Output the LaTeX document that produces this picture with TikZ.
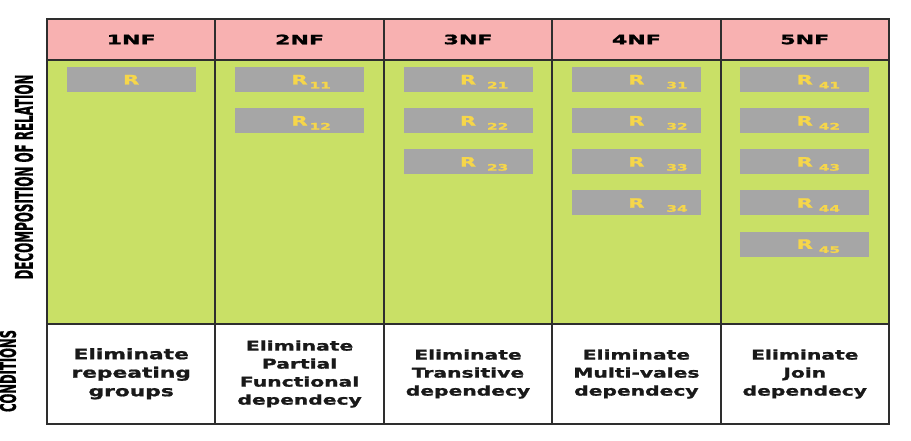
\documentclass[tikz,border=0pt]{standalone}
\usepackage{fontspec}
\setmainfont{DejaVu Sans}[BoldFeatures={FakeBold=1.2}]
\usetikzlibrary{positioning}

\definecolor{hdrpink}{HTML}{F8B1B1}
\definecolor{bodygreen}{HTML}{C9E066}
\definecolor{relgray}{HTML}{A6A6A6}
\definecolor{relyellow}{HTML}{F6D64A}
\definecolor{gridline}{HTML}{2E2E2E}

\newcommand{\widetext}[1]{\scalebox{1.7}[1]{#1}}
\newcommand{\condtext}[3]{\scalebox{1.5}[1]{\fontsize{#1}{#2}\selectfont\begin{tabular}{@{}c@{}}#3\end{tabular}}}
\newcommand{\relname}[2]{\scalebox{1.6}[1]{\fontsize{13}{13}\selectfont R}\rlap{\hspace{#1}\raisebox{-4pt}{\scalebox{1.7}[1]{\fontsize{9}{9}\selectfont #2}}}}

\tikzset{
  cell/.style={draw=gridline, line width=2pt, inner sep=0pt, minimum width=168.4pt},
  hdrcell/.style={cell, fill=hdrpink, minimum height=41pt, font=\fontsize{13}{13}\selectfont\bfseries, text=black},
  bodycell/.style={cell, fill=bodygreen, minimum height=264pt},
  condcell/.style={cell, fill=white, minimum height=100pt, font=\bfseries, text=black!90},
  relbox/.style={fill=relgray, inner sep=0pt, minimum width=129pt, minimum height=25pt,
    text height=9.5pt, text depth=0pt, text=relyellow, font=\bfseries},
  sidelabel/.style={rotate=90, inner sep=0pt, font=\bfseries, text=black}
}

\begin{document}
\begin{tikzpicture}[x=1pt, y=-1pt, node distance=15.7pt]
	\useasboundingbox (0,0) rectangle (911,441);
	% header row
	\node[hdrcell] (h1) at (131.2,39.5) {\widetext{1NF}};
	\node[hdrcell] (h2) at (299.6,39.5) {\widetext{2NF}};
	\node[hdrcell] (h3) at (468.0,39.5) {\widetext{3NF}};
	\node[hdrcell] (h4) at (636.4,39.5) {\widetext{4NF}};
	\node[hdrcell] (h5) at (804.8,39.5) {\widetext{5NF}};
	% decomposition row
	\node[bodycell] (b1) at (131.2,192) {};
	\node[bodycell] (b2) at (299.6,192) {};
	\node[bodycell] (b3) at (468.0,192) {};
	\node[bodycell] (b4) at (636.4,192) {};
	\node[bodycell] (b5) at (804.8,192) {};
	% conditions row
	\node[condcell] (c1) at (131.2,374) {\condtext{14.5}{18.5}{Eliminate\\repeating\\groups}};
	\node[condcell] (c2) at (299.6,374) {\condtext{13.5}{18}{Eliminate\\Partial\\Functional\\dependecy}};
	\node[condcell] (c3) at (468.0,374) {\condtext{13.5}{18}{Eliminate\\Transitive\\dependecy}};
	\node[condcell] (c4) at (636.4,374) {\condtext{13.5}{18}{Eliminate\\Multi-vales\\dependecy}};
	\node[condcell] (c5) at (804.8,374) {\condtext{13.5}{18}{Eliminate\\Join\\dependecy}};
	% relations
	\node[relbox, below=8pt of b1.north] (r1)  {\relname{0pt}{}};
	\node[relbox, below=8pt of b2.north] (r11) {\relname{2pt}{11}};
	\node[relbox, below=of r11]          (r12) {\relname{2pt}{12}};
	\node[relbox, below=8pt of b3.north] (r21) {\relname{11pt}{21}};
	\node[relbox, below=of r21]          (r22) {\relname{11pt}{22}};
	\node[relbox, below=of r22]          (r23) {\relname{11pt}{23}};
	\node[relbox, below=8pt of b4.north] (r31) {\relname{22pt}{31}};
	\node[relbox, below=of r31]          (r32) {\relname{22pt}{32}};
	\node[relbox, below=of r32]          (r33) {\relname{22pt}{33}};
	\node[relbox, below=of r33]          (r34) {\relname{22pt}{34}};
	\node[relbox, below=8pt of b5.north] (r41) {\relname{6pt}{41}};
	\node[relbox, below=of r41]          (r42) {\relname{6pt}{42}};
	\node[relbox, below=of r42]          (r43) {\relname{6pt}{43}};
	\node[relbox, below=of r43]          (r44) {\relname{6pt}{44}};
	\node[relbox, below=of r44]          (r45) {\relname{6pt}{45}};
	% side labels
	\node[sidelabel] (declab)  at (24,177) {\resizebox{205pt}{18pt}{DECOMPOSITION OF RELATION}};
	\node[sidelabel] (condlab) at (8,371)  {\resizebox{82pt}{16pt}{CONDITIONS}};
\end{tikzpicture}
\end{document}
